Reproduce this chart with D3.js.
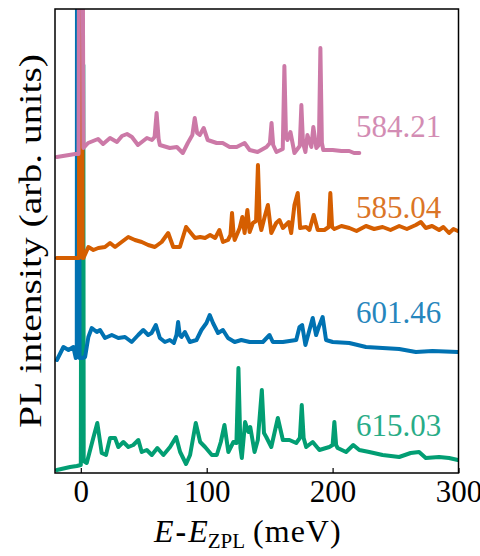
<!DOCTYPE html>
<html>
<head>
<meta charset="utf-8">
<script src="https://cdn.jsdelivr.net/npm/d3@7"></script>
<style>
  body { margin: 0; background: white; }
  svg text { font-family: "Liberation Serif", "DejaVu Serif", serif; }
</style>
</head>
<body>
<div class="d3_content"></div>
<script>
// spectra: [E - E_ZPL (meV), intensity (arb. units, offsets included)]
var spec_58421 = [[-19.0,316],[-4.5,319],[-1.8,319],[-1.3,600],[1.3,600],[2.1,325],[5.8,330],[13.7,334],[17.7,329],[23.2,335],[28.7,331],[32.7,337],[36.7,339],[40.6,336],[45.4,328],[52.5,335],[56.5,333],[58.6,336],[60.2,360],[61.8,334],[62.8,328],[70.7,325],[76.3,326],[81.0,320],[85.0,330],[88.6,338],[90.5,355],[92.4,340],[94.5,338],[97.6,345],[100.8,333],[107.9,330],[112.7,330],[118.2,326],[123.8,326],[130.1,330],[134.1,323],[140.4,321],[147.5,326],[150.2,330],[151.5,350],[152.8,328],[155.4,321],[160.4,324],[161.7,407],[163.0,336],[164.1,333],[166.5,341],[169.7,320],[173.9,327],[175.2,368],[176.5,330],[178.4,321],[180.0,338],[183.1,326],[184.7,346],[187.1,325],[189.1,328],[190.3,425],[191.5,330],[192.6,323],[200.0,323],[207.0,322],[213.2,322],[217.0,320],[221.2,320]];

var spec_58504 = [[-19.0,215],[-4.5,215],[-1.5,215],[-1.0,600],[1.0,600],[1.5,215],[2.1,215],[6.0,226],[10.0,223],[13.9,225],[19.2,226],[23.2,230],[27.2,226],[32.4,231],[37.7,236],[43.0,233],[48.4,231],[53.5,228],[58.8,226],[64.2,231],[69.4,240],[73.4,226],[78.7,226],[83.6,246],[86.8,241],[90.7,235],[94.8,236],[98.7,235],[102.7,238],[106.7,235],[110.1,243],[112.9,231],[116.9,233],[118.9,238],[120.1,260],[121.3,240],[122.2,233],[126.2,245],[128.3,256],[130.1,240],[132.3,263],[134.1,241],[136.7,250],[139.2,252],[140.7,308],[142.2,250],[143.4,243],[146.0,256],[148.6,268],[151.3,240],[155.2,250],[157.8,253],[160.5,245],[165.2,251],[167.1,240],[169.7,268],[172.3,280],[174.2,245],[179.0,246],[181.6,243],[185.0,258],[188.2,243],[193.5,243],[196.9,246],[198.2,280],[199.6,246],[201.4,244],[207.0,247],[213.3,245],[219.0,242],[226.5,247],[233.0,244],[239.7,246],[246.0,243],[252.9,247],[259.0,244],[266.1,248],[270.1,251],[274.0,245],[279.0,247],[284.6,243],[288.0,246],[292.5,240],[296.0,244],[299.5,242]];

var spec_60146 = [[-19.0,113],[-13.8,126],[-9.8,123],[-5.9,126],[-4.0,115],[-3.2,116],[-3.0,600],[-1.5,600],[-1.0,115],[1.0,115],[3.4,116],[6.0,136],[8.7,145],[12.7,141],[15.3,143],[19.2,135],[24.6,138],[29.8,135],[35.1,136],[40.4,131],[45.6,138],[49.6,143],[53.5,138],[56.2,140],[59.6,148],[62.8,135],[66.8,131],[70.7,133],[73.9,130],[76.0,138],[77.3,151],[78.6,138],[80.0,136],[82.6,141],[86.6,131],[91.9,133],[95.8,143],[99.8,150],[102.4,158],[105.0,150],[109.0,140],[112.9,143],[116.9,135],[122.2,131],[127.5,133],[134.1,131],[144.6,131],[149.9,138],[152.5,131],[160.5,131],[171.1,133],[173.7,146],[175.8,148],[178.4,128],[181.6,143],[184.2,155],[186.9,138],[189.0,146],[192.1,156],[194.8,133],[200.1,131],[213.3,130],[226.5,126],[239.7,125],[252.9,124],[266.1,121],[279.3,122],[299.5,121]];

var spec_61503 = [[-19.0,3],[-8.5,6],[-3.2,7],[0.0,8],[0.5,408],[2.0,408],[2.3,12],[4.7,10],[9.9,35],[13.1,50],[16.6,20],[20.0,18],[23.2,35],[27.2,35],[29.8,26],[33.8,31],[37.8,26],[41.7,28],[45.7,33],[48.4,21],[52.4,23],[56.4,18],[60.8,25],[65.6,18],[70.9,26],[75.7,36],[78.9,21],[83.6,9],[86.8,18],[91.3,50],[94.8,31],[98.7,26],[104.1,18],[108.0,18],[111.2,31],[114.1,48],[117.2,21],[121.2,31],[123.6,30],[125.2,105],[126.8,25],[127.9,15],[130.5,51],[133.1,41],[134.6,46],[138.0,21],[140.6,33],[143.8,83],[145.5,40],[147.3,36],[151.3,26],[156.5,55],[160.5,33],[165.7,33],[171.1,30],[174.0,35],[175.5,68],[177.0,35],[179.0,26],[184.2,31],[189.5,23],[197.4,26],[200.0,28],[201.4,51],[202.8,28],[204.0,25],[210.7,21],[216.4,28],[221.2,23],[229.1,21],[239.7,18],[252.9,16],[262.0,20],[268.7,21],[274.0,15],[284.6,16],[292.5,15],[299.5,13]];

var series_labels = ["584.21", "585.04", "601.46", "615.03"];
var label_levels = [336, 255, 150, 37];
var x_ticks = [0, 100, 200, 300];

var frame = { left: 55, right: 458.5, top: 9, bottom: 473 };
var colors = ["#cc79a7", "#d55e00", "#0072b2", "#029e73"];

var xscale = d3.scaleLinear([-20.5, 300], [frame.left, frame.right]);
var yscale = d3.scaleLinear([0, 464], [frame.bottom, frame.top]);

var svg = d3.select(".d3_content").append("svg")
  .attr("width", 480)
  .attr("height", 556);

svg.append("clipPath").attr("id", "plot-clip")
  .append("rect")
  .attr("x", frame.left).attr("y", frame.top)
  .attr("width", frame.right - frame.left)
  .attr("height", frame.bottom - frame.top);

var line = d3.line()
  .x(d => xscale(d[0]))
  .y(d => yscale(d[1]));

// draw order: green, blue, orange, pink on top
var spectra = [spec_58421, spec_58504, spec_60146, spec_61503];
var order = [3, 2, 1, 0];
var g = svg.append("g").attr("clip-path", "url(#plot-clip)");
order.forEach(i => {
  g.append("path")
    .datum(spectra[i])
    .attr("d", line)
    .style("fill", "none")
    .style("stroke", colors[i])
    .style("stroke-width", 4)
    .style("stroke-linejoin", "round")
    .style("stroke-linecap", "round");
});

// labels of each spectrum
series_labels.forEach((lab, i) => {
  svg.append("text").text(lab)
    .attr("x", xscale(218.5))
    .attr("y", yscale(label_levels[i]))
    .style("font-size", "31px")
    .style("fill", colors[i])
    .style("opacity", 0.85);
});

// x axis, ticks pointing inside
var xaxis = svg.append("g")
  .attr("transform", `translate(0, ${frame.bottom})`)
  .call(d3.axisBottom(xscale).tickValues(x_ticks).tickSizeInner(-5).tickSizeOuter(0).tickPadding(7));
xaxis.select(".domain").remove();
xaxis.selectAll(".tick line").style("stroke", "black").style("stroke-width", 1.2);
xaxis.selectAll(".tick text")
  .style("font-family", "Liberation Serif")
  .style("font-size", "31px")
  .style("fill", "black");

// frame
svg.append("rect")
  .attr("x", frame.left).attr("y", frame.top)
  .attr("width", frame.right - frame.left)
  .attr("height", frame.bottom - frame.top)
  .style("fill", "none")
  .style("stroke", "black")
  .style("stroke-width", 1.5);

// y label
svg.append("text").text("PL intensity (arb. units)")
  .attr("x", -(frame.top + frame.bottom) / 2)
  .attr("y", 41)
  .attr("transform", "rotate(-90)")
  .attr("text-anchor", "middle")
  .attr("textLength", 374)
  .attr("lengthAdjust", "spacingAndGlyphs")
  .style("font-size", "32px");

// x label
var xl = svg.append("text")
  .attr("x", 154)
  .attr("y", 542)
  .style("font-size", "32px");
xl.append("tspan").text("E").style("font-style", "italic");
xl.append("tspan").text("-").attr("dx", 2).style("font-weight", "bold");
xl.append("tspan").text("E").attr("dx", 2).style("font-style", "italic");
xl.append("tspan").text("ZPL").attr("dy", 6).style("font-size", "21px");
xl.append("tspan").text("(meV)").attr("dx", 8).attr("dy", -6).style("letter-spacing", "1px");
</script>
</body>
</html>
